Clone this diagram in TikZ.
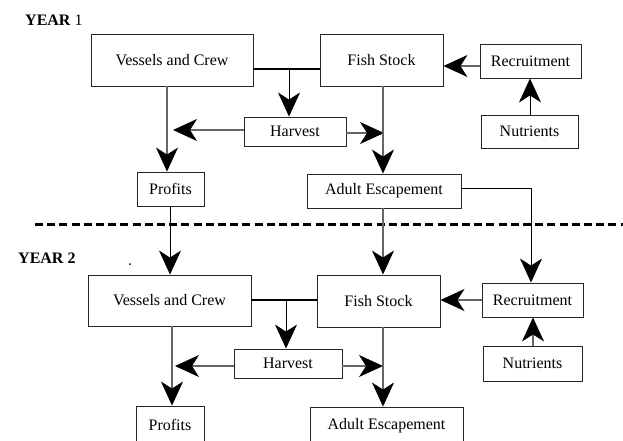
\documentclass[tikz,border=0pt]{standalone}
\usepackage{fontspec}
\setmainfont{Liberation Serif}
\usetikzlibrary{arrows.meta}
\begin{document}
\begin{tikzpicture}[x=1pt,y=-1pt,
  box/.style={draw=black!85, line width=0.9pt, inner sep=0pt, font=\fontsize{16}{18}\selectfont, anchor=center},
  big/.style={-{Stealth[length=24pt,width=22pt,inset=7pt,color=black]}},
  gl/.style={draw=black!60, line width=1.1pt},
  bl/.style={draw=black, line width=1pt},
  thk/.style={draw=black, line width=2pt},
  lbl/.style={font=\fontsize{16}{18}\selectfont, inner sep=0pt}]
\clip (0,0) rectangle (623,440);
\useasboundingbox (0,0) rectangle (623,440);
% labels
\node[lbl, anchor=west] (y1) at (25,20) {\textbf{YEAR} 1};
\node[lbl, anchor=west] (y2) at (18,258) {\textbf{YEAR 2}};
\node[circle, fill=black, inner sep=0pt, minimum size=2pt] (dot) at (130,264) {};
% year 1 boxes
\node[box, minimum width=162pt, minimum height=52pt] (V1) at (172,60) {Vessels and Crew};
\node[box, minimum width=123pt, minimum height=52pt] (F1) at (381.5,60) {Fish Stock};
\node[box, minimum width=101pt, minimum height=34pt] (R1) at (530.5,61) {Recruitment};
\node[box, minimum width=97pt, minimum height=33pt] (N1) at (529.5,131.5) {Nutrients};
\node[box, minimum width=102pt, minimum height=29pt] (H1) at (295,131.5) {Harvest};
\node[box, minimum width=67pt, minimum height=34pt] (P1) at (170.5,189) {Profits};
\node[box, minimum width=154pt, minimum height=34pt] (A1) at (384,191) {Adult Escapement};
% year 2 boxes
\node[box, minimum width=163pt, minimum height=51pt] (V2) at (169.5,300.5) {Vessels and Crew};
\node[box, minimum width=123pt, minimum height=52pt] (F2) at (378.5,301) {Fish Stock};
\node[box, minimum width=101pt, minimum height=34pt] (R2) at (532.5,300) {Recruitment};
\node[box, minimum width=99pt, minimum height=35pt] (N2) at (532.5,363.5) {Nutrients};
\node[box, minimum width=108pt, minimum height=29pt] (H2) at (288,363.5) {Harvest};
\node[box, minimum width=68pt, minimum height=38pt] (P2) at (170,425) {Profits};
\node[box, minimum width=153pt, minimum height=38pt] (A2) at (386.5,426) {Adult Escapement};
% dashed separator
\coordinate (d0) at (35,224);
\coordinate (d1) at (623,224);
\draw[black, line width=3pt, dash pattern=on 8pt off 4.2pt] (d0) -- (d1);
% helper coordinates year 1
\coordinate (j1a) at (0,69);
\coordinate (b1) at (289,0);
\coordinate (vx1) at (167,0);
\coordinate (fx1) at (383,0);
\coordinate (hl1) at (173,130);
\coordinate (hr1) at (384,133);
\coordinate (rf1) at (0,66);
\coordinate (nx1) at (530,0);
\coordinate (ae1) at (531,188);
\coordinate (px1) at (170,0);
% year 1 connectors
\draw[thk] (V1.east |- j1a) -- (F1.west |- j1a);
\draw[bl, big] (b1 |- j1a) -- (b1 |- H1.north);
\draw[gl, big] (V1.south -| vx1) -- (P1.north -| vx1);
\draw[gl, big] (H1.west |- hl1) -- (hl1);
\draw[gl, big] (H1.east |- hr1) -- (hr1);
\draw[gl, big] (F1.south -| fx1) -- (A1.north -| fx1);
\draw[gl, big] (R1.west |- rf1) -- (F1.east |- rf1);
\draw[bl, big] (N1.north -| nx1) -- (R1.south -| nx1);
% inter-year connectors
\draw[bl, big] (A1.east |- ae1) -- (ae1) -- (R2.north -| ae1);
\draw[bl, big] (P1.south -| px1) -- (V2.north -| px1);
\draw[gl, big] (A1.south -| fx1) -- (F2.north -| fx1);
% helper coordinates year 2
\coordinate (j2a) at (0,300);
\coordinate (b2) at (286,0);
\coordinate (vx2) at (172,0);
\coordinate (hl2) at (175,366);
\coordinate (hr2) at (383,366);
\coordinate (nx2) at (533,0);
% year 2 connectors
\draw[thk] (V2.east |- j2a) -- (F2.west |- j2a);
\draw[bl, big] (b2 |- j2a) -- (b2 |- H2.north);
\draw[gl, big] (V2.south -| vx2) -- (P2.north -| vx2);
\draw[gl, big] (H2.west |- hl2) -- (hl2);
\draw[gl, big] (H2.east |- hr2) -- (hr2);
\draw[gl, big] (F2.south -| fx1) -- (A2.north -| fx1);
\draw[gl, big] (R2.west |- j2a) -- (F2.east |- j2a);
\draw[gl, big] (N2.north -| nx2) -- (R2.south -| nx2);
\end{tikzpicture}
\end{document}
